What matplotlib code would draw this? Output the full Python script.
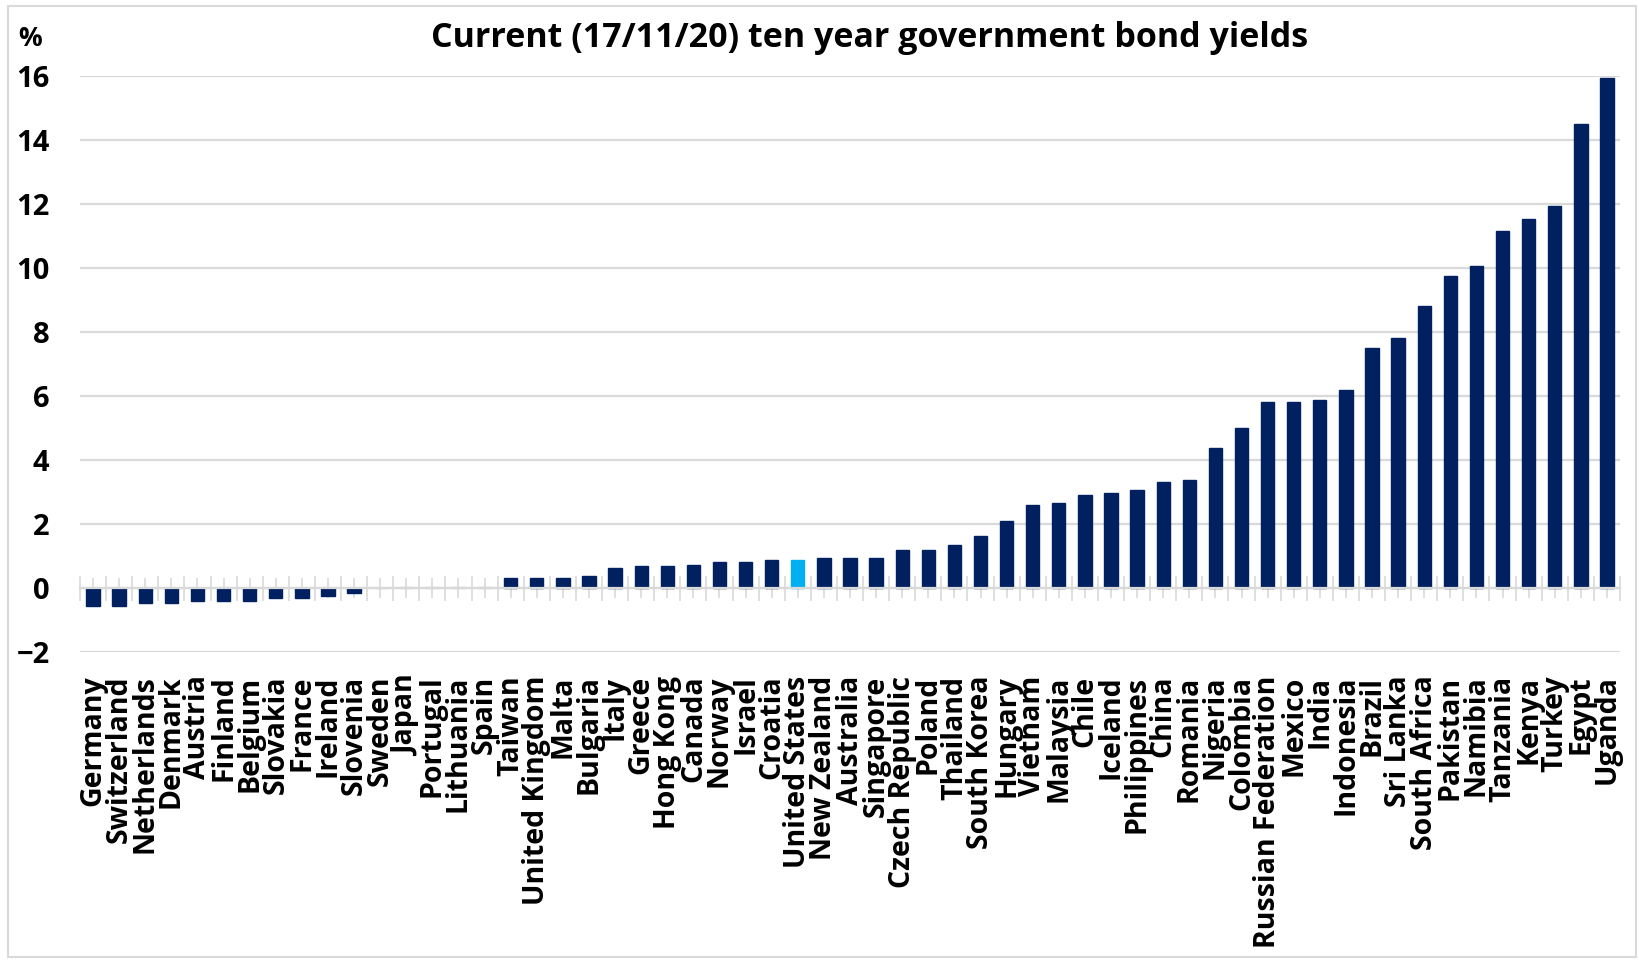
import matplotlib
matplotlib.use("Agg")
import matplotlib.pyplot as plt
from matplotlib.patches import Rectangle
from matplotlib.ticker import FixedLocator, MultipleLocator

# ten year government bond yields, % (17/11/20)
countries = [
    "Germany", "Switzerland", "Netherlands", "Denmark", "Austria", "Finland",
    "Belgium", "Slovakia", "France", "Ireland", "Slovenia", "Sweden", "Japan",
    "Portugal", "Lithuania", "Spain", "Taiwan", "United Kingdom", "Malta",
    "Bulgaria", "Italy", "Greece", "Hong Kong", "Canada", "Norway", "Israel",
    "Croatia", "United States", "New Zealand", "Australia", "Singapore",
    "Czech Republic", "Poland", "Thailand", "South Korea", "Hungary", "Vietnam",
    "Malaysia", "Chile", "Iceland", "Philippines", "China", "Romania", "Nigeria",
    "Colombia", "Russian Federation", "Mexico", "India", "Indonesia", "Brazil",
    "Sri Lanka", "South Africa", "Pakistan", "Namibia", "Tanzania", "Kenya",
    "Turkey", "Egypt", "Uganda",
]
yields = [
    -0.55, -0.57, -0.48, -0.48, -0.40, -0.40,
    -0.40, -0.32, -0.32, -0.25, -0.16, 0.0, 0.02,
    0.03, 0.02, 0.04, 0.30, 0.32, 0.32,
    0.37, 0.62, 0.70, 0.70, 0.72, 0.80, 0.80,
    0.87, 0.87, 0.93, 0.93, 0.93,
    1.18, 1.18, 1.35, 1.63, 2.10, 2.58,
    2.67, 2.90, 2.97, 3.05, 3.30, 3.37, 4.38,
    5.00, 5.81, 5.81, 5.88, 6.20, 7.49,
    7.80, 8.82, 9.75, 10.07, 11.15, 11.53,
    11.95, 14.50, 15.93,
]
highlight = "United States"

navy = "#002060"
cyan = "#00b0f0"
pale = "#c3c8d8"
grey = "#d9d9d9"

bar_colors = []
for c, v in zip(countries, yields):
    if c == highlight:
        bar_colors.append(cyan)
    elif abs(v) < 0.1:
        bar_colors.append(pale)
    else:
        bar_colors.append(navy)

plt.rcParams["font.family"] = ["Open Sans", "DejaVu Sans"]
plt.rcParams["font.weight"] = "bold"

fig = plt.figure(figsize=(16.4, 9.6), dpi=100)
ax = fig.add_axes([80 / 1640, 1 - 652 / 960, 1540 / 1640, 576 / 960])

x = list(range(len(countries)))
ax.bar(x, yields, width=0.51, color=bar_colors, edgecolor=bar_colors,
       linewidth=1.0, zorder=2)

ax.set_xlim(-0.5, len(countries) - 0.5)
ax.set_ylim(-2, 16)
ax.yaxis.set_major_locator(MultipleLocator(2))
ax.grid(axis="y", color=grey, linewidth=1.6)
ax.set_axisbelow(True)

for side in ["top", "right", "left"]:
    ax.spines[side].set_visible(False)

# zero line with tick marks between and under the categories
ax.spines["bottom"].set_position(("data", 0))
ax.spines["bottom"].set_color(grey)
ax.spines["bottom"].set_linewidth(1.6)
ax.xaxis.set_major_locator(FixedLocator([i - 0.5 for i in range(len(countries) + 1)]))
ax.xaxis.set_minor_locator(FixedLocator(x))
ax.tick_params(axis="x", which="both", direction="inout", color=grey,
               width=1.2, labelbottom=False)
ax.tick_params(axis="x", which="major", length=18)
ax.tick_params(axis="x", which="minor", length=14)

ax.tick_params(axis="y", length=0, pad=22, labelsize=21, labelcolor="black")
for lbl in ax.get_yticklabels():
    lbl.set_fontweight("bold")

# country names hang below the plot area
sec = ax.secondary_xaxis("bottom")
sec.set_xticks(x)
sec.set_xticklabels(countries, rotation=90, fontsize=20.5, fontweight="bold")
sec.tick_params(length=0, pad=17)
sec.spines["bottom"].set_visible(False)

fig.text(0.5 * (427 + 1313) / 1640, 1 - 38 / 960,
         "Current (17/11/20) ten year government bond yields",
         ha="center", va="center", fontsize=24.5, fontweight="bold")
fig.text(18 / 1640, 1 - 38 / 960, "%", ha="left", va="center",
         fontsize=19, fontweight="bold")

fig.patches.append(Rectangle((8 / 1640, 1 - 957 / 960), 1628 / 1640, 951 / 960,
                             transform=fig.transFigure, fill=False,
                             edgecolor=grey, linewidth=1.5))

fig.savefig("out.png", dpi=100)
